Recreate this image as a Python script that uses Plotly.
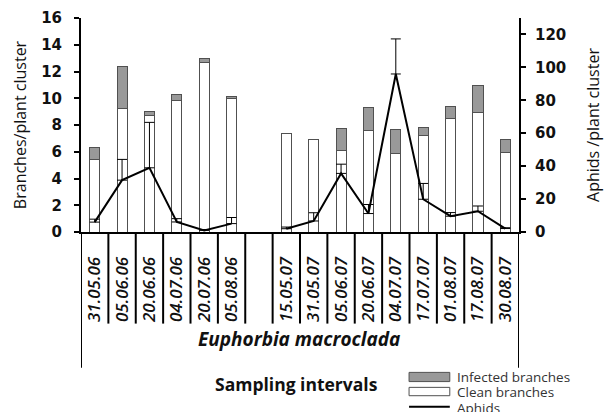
import plotly.graph_objects as go

dates = ["31.05.06", "05.06.06", "20.06.06", "04.07.06", "20.07.06", "05.08.06", " ",
         "15.05.07", "31.05.07", "05.06.07", "20.06.07", "04.07.07", "17.07.07",
         "01.08.07", "17.08.07", "30.08.07"]
clean = [5.4, 9.2, 8.7, 9.8, 12.65, 10.0, None,
         7.35, 6.95, 6.1, 7.6, 5.9, 7.25, 8.5, 8.95, 5.95]
infected = [0.95, 3.15, 0.3, 0.5, 0.3, 0.15, None,
            0.0, 0.0, 1.65, 1.7, 1.8, 0.6, 0.92, 1.97, 1.0]
aphids = [6.0, 31.5, 39.0, 6.1, 1.0, 5.1, None,
          2.0, 6.7, 35.6, 11.2, 96.0, 19.9, 9.6, 12.6, 2.1]
aphids_err = [1.8, 12.6, 27.6, 2.0, 0.5, 3.7, None,
              1.0, 5.0, 5.6, 5.5, 21.3, 9.6, 2.2, 3.2, 0.5]

TXT = "#111111"
FONT = "Open Sans"
fig = go.Figure()
fig.add_trace(go.Bar(x=dates, y=clean, name="Clean branches", width=0.37,
                     marker=dict(color="white", line=dict(color="#505050", width=1)),
                     showlegend=False))
fig.add_trace(go.Bar(x=dates, y=infected, name="Infected branches", width=0.37,
                     marker=dict(color="#999999", line=dict(color="#505050", width=1)),
                     showlegend=False))
fig.add_trace(go.Scatter(x=dates, y=aphids, name="Aphids", yaxis="y2", mode="lines",
                         line=dict(color="black", width=2), connectgaps=False,
                         error_y=dict(type="data", array=aphids_err, symmetric=False,
                                      arrayminus=[0] * len(aphids), color="black",
                                      thickness=1, width=5),
                         showlegend=False))

tickfont = dict(family="DejaVu Sans", size=15, color=TXT, weight="bold")
fig.update_layout(
    width=604, height=412,
    margin=dict(l=81, r=85, t=18, b=180),
    paper_bgcolor="white", plot_bgcolor="white",
    barmode="stack", bargap=0.6,
    xaxis=dict(type="category", categoryorder="array", categoryarray=dates,
               showline=True, linecolor="black", linewidth=2, ticks="",
               showgrid=False, tickangle=-90, ticklabelstandoff=16, automargin=False,
               tickfont=dict(family=FONT, size=17, color=TXT, style="italic", weight=600),
               range=[-0.5, 15.5]),
    yaxis=dict(range=[0, 16], dtick=2, showline=True, linecolor="black", linewidth=2,
               ticks="outside", ticklen=5, tickwidth=2, tickcolor="black",
               ticklabelstandoff=9,
               showgrid=False, zeroline=False, tickfont=tickfont, automargin=False,
               title=dict(text="Branches/plant cluster", standoff=11,
                          font=dict(family=FONT, size=16, color=TXT))),
    yaxis2=dict(range=[0, 130], tickvals=[0, 20, 40, 60, 80, 100, 120],
                overlaying="y", side="right", showline=True, linecolor="black",
                linewidth=2, ticks="outside", ticklen=5, tickwidth=2, tickcolor="black",
                ticklabelstandoff=6,
                showgrid=False, zeroline=False, tickfont=tickfont, automargin=False,
                title=dict(text="Aphids /plant cluster", standoff=22,
                           font=dict(family=FONT, size=16, color=TXT))),
)

shapes = []
for i in range(17):
    outer = i in (0, 16)
    shapes.append(dict(type="line", xref="x", yref="paper", x0=i - 0.5, x1=i - 0.5,
                       y0=0, y1=-0.634 if outer else -0.428,
                       line=dict(color="black", width=2)))
# manual legend
shapes.append(dict(type="rect", xref="paper", yref="paper", x0=0.749, x1=0.842,
                   y0=-0.656, y1=-0.699, fillcolor="#999999",
                   line=dict(color="#505050", width=1)))
shapes.append(dict(type="rect", xref="paper", yref="paper", x0=0.749, x1=0.842,
                   y0=-0.726, y1=-0.765, fillcolor="white",
                   line=dict(color="#505050", width=1)))
shapes.append(dict(type="line", xref="paper", yref="paper", x0=0.749, x1=0.842,
                   y0=-0.817, y1=-0.817, line=dict(color="black", width=2)))
fig.update_layout(shapes=shapes)

legfont = dict(family=FONT, size=13.5, color="#333333")
annotations = [
    dict(text="Infected branches", x=0.855, y=-0.678),
    dict(text="Clean branches", x=0.855, y=-0.748),
    dict(text="Aphids", x=0.855, y=-0.822),
]
for a in annotations:
    a.update(xref="paper", yref="paper", xanchor="left", yanchor="middle",
             showarrow=False, font=legfont)
annotations.append(dict(text="<b><i>Euphorbia macroclada</i></b>", x=0.497, y=-0.568,
                        xref="paper", yref="paper", showarrow=False,
                        font=dict(family=FONT, size=19, color=TXT)))
annotations.append(dict(text="<b>Sampling intervals</b>", x=0.493, y=-0.778,
                        xref="paper", yref="paper", showarrow=False,
                        font=dict(family=FONT, size=17.5, color=TXT)))
fig.update_layout(annotations=annotations)

fig.write_html("out.html", config={"displayModeBar": False},
               post_script="document.body.style.margin='0px';document.body.style.overflow='hidden';")
